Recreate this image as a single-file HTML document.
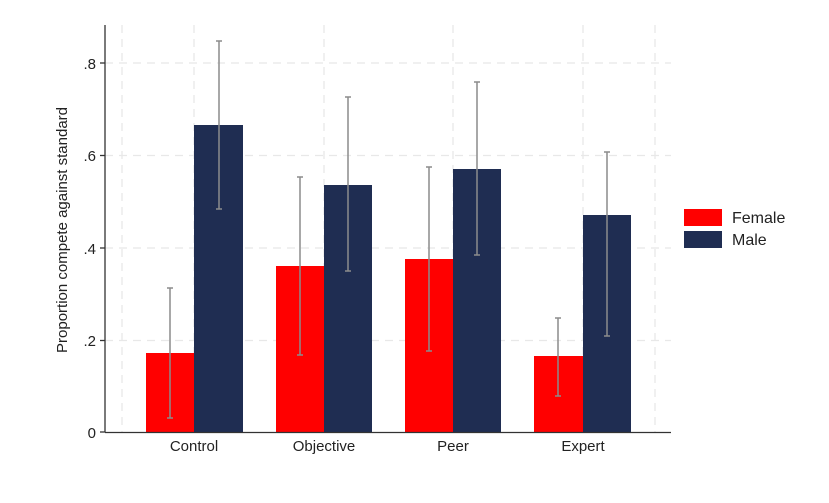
<!DOCTYPE html>
<html><head><style>body{margin:0;background:#fff}svg{display:block}</style></head><body>
<svg width="829" height="503" xmlns="http://www.w3.org/2000/svg" font-family="Liberation Sans, sans-serif">
<rect width="829" height="503" fill="#fff"/>
<g stroke="#e8e8e8" stroke-width="1.3" stroke-dasharray="8,6">
<line x1="105" y1="63" x2="671" y2="63"/><line x1="105" y1="155.5" x2="671" y2="155.5"/><line x1="105" y1="248" x2="671" y2="248"/><line x1="105" y1="340.5" x2="671" y2="340.5"/>
<line x1="122" y1="25" x2="122" y2="432"/><line x1="194" y1="25" x2="194" y2="432"/><line x1="324" y1="25" x2="324" y2="432"/><line x1="453" y1="25" x2="453" y2="432"/><line x1="583" y1="25" x2="583" y2="432"/><line x1="655" y1="25" x2="655" y2="432"/>
</g>
<g fill="#ff0000"><rect x="146" y="353" width="48" height="79"/><rect x="276" y="266" width="48" height="166"/><rect x="405" y="259" width="48" height="173"/><rect x="534" y="356" width="49" height="76"/></g>
<g fill="#1f2d52"><rect x="194" y="125" width="49" height="307"/><rect x="324" y="185" width="48" height="247"/><rect x="453" y="169" width="48" height="263"/><rect x="583" y="215" width="48" height="217"/></g>
<g stroke="#8c8c8c" stroke-width="1.5" fill="none">
<path d="M170 288V418M167 288h6M167 418h6"/>
<path d="M219 41V209M216 41h6M216 209h6"/>
<path d="M300 177V355M297 177h6M297 355h6"/>
<path d="M348 97V271M345 97h6M345 271h6"/>
<path d="M429 167V351M426 167h6M426 351h6"/>
<path d="M477 82V255M474 82h6M474 255h6"/>
<path d="M558 318V396M555 318h6M555 396h6"/>
<path d="M607 152V336M604 152h6M604 336h6"/>
</g>
<g stroke="#333" stroke-width="1.3"><line x1="105" y1="25" x2="105" y2="432.5"/><line x1="105" y1="432.5" x2="671" y2="432.5"/>
<line x1="100" y1="63" x2="105" y2="63"/><line x1="100" y1="155.5" x2="105" y2="155.5"/><line x1="100" y1="248" x2="105" y2="248"/><line x1="100" y1="340.5" x2="105" y2="340.5"/><line x1="100" y1="432" x2="105" y2="432"/></g>
<g font-size="15" fill="#222" text-anchor="end">
<text x="96" y="69">.8</text><text x="96" y="161">.6</text><text x="96" y="254">.4</text><text x="96" y="346">.2</text><text x="96" y="438">0</text></g>
<g font-size="15" fill="#222" text-anchor="middle">
<text x="194" y="451">Control</text><text x="324" y="451">Objective</text><text x="453" y="451">Peer</text><text x="583" y="451">Expert</text></g>
<text transform="translate(67,230) rotate(-90)" font-size="15" fill="#222" text-anchor="middle">Proportion compete against standard</text>
<rect x="684" y="209" width="38" height="17" fill="#ff0000"/><rect x="684" y="231" width="38" height="17" fill="#1f2d52"/>
<text x="732" y="223" font-size="16" fill="#222">Female</text><text x="732" y="245" font-size="16" fill="#222">Male</text>
</svg>
</body></html>
